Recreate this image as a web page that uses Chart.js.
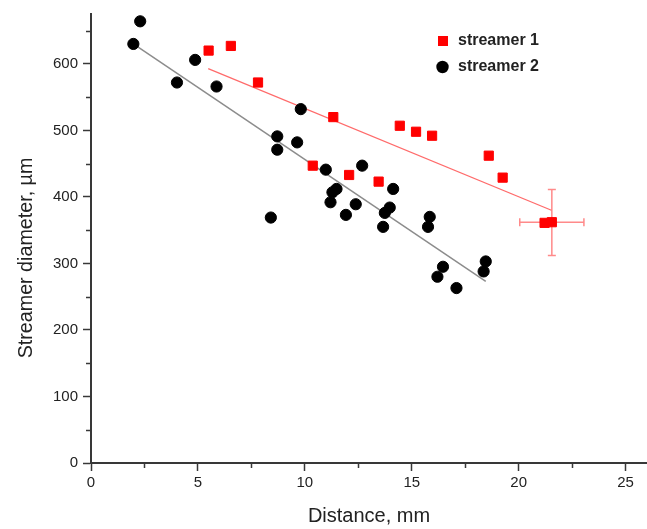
<!DOCTYPE html>
<html>
<head>
<meta charset="utf-8">
<script src="https://cdn.jsdelivr.net/npm/chart.js@4.4.0/dist/chart.umd.min.js"></script>
<style>
  html, body { margin: 0; padding: 0; background: #fff; }
  #wrap { width: 647px; height: 529px; }
</style>
</head>
<body>
<div id="wrap"><canvas id="chart" width="647" height="529"></canvas></div>
<script>
// streamer 1 (red squares)
const s1X = [5.5, 6.54, 7.81, 11.33, 10.37, 12.07, 13.45, 14.44, 15.2, 15.95, 18.6, 19.25, 21.21, 21.55];
const s1Y = [620, 627, 572, 520, 447, 433, 423, 507, 498, 492, 462, 429, 361, 362];

// streamer 2 (black circles)
const s2X = [2.3, 1.98, 4.87, 4.02, 5.87, 9.81, 8.71, 8.71, 9.64, 10.98, 12.68, 11.48, 11.29, 11.2,
             12.38, 11.92, 8.41, 14.13, 13.97, 13.74, 13.66, 15.84, 15.76, 16.46, 16.2, 17.09, 18.46, 18.36];
const s2Y = [664, 630, 606, 572, 566, 532, 491, 471, 482, 441, 447, 412, 407, 392,
             389, 373, 369, 412, 384, 376, 355, 370, 355, 295, 280, 263, 303, 288];

// linear fits (end points)
const fit1X = [5.48, 21.53];
const fit1Y = [593, 380];
const fit2X = [1.98, 18.46];
const fit2Y = [630, 273];

// error bar on streamer 1
const errX = [21.55];
const errY = [362];
const errXLow = [20.05];
const errXHigh = [23.05];
const errYLow = [312];
const errYHigh = [411];

const xTicks = [0, 5, 10, 15, 20, 25];
const yTicks = [0, 100, 200, 300, 400, 500, 600];
const xMinor = [2.5, 7.5, 12.5, 17.5, 22.5];
const yMinor = [50, 150, 250, 350, 450, 550, 650];

const yTitle = "Streamer diameter, µm";

const FONT = "'Liberation Sans', Arial, sans-serif";
const AXIS = "#383838";

const pts = (xs, ys) => xs.map((x, i) => ({ x: x, y: ys[i] }));

const errorBars = {
  id: "errorBars",
  beforeDatasetsDraw(chart) {
    const c = chart.ctx, xs = chart.scales.x, ys = chart.scales.y;
    c.save();
    c.strokeStyle = "#ff8a8a";
    c.lineWidth = 1.5;
    errX.forEach((v, i) => {
      const px = xs.getPixelForValue(v), py = ys.getPixelForValue(errY[i]);
      const x1 = xs.getPixelForValue(errXLow[i]), x2 = xs.getPixelForValue(errXHigh[i]);
      const y1 = ys.getPixelForValue(errYHigh[i]), y2 = ys.getPixelForValue(errYLow[i]);
      c.beginPath();
      c.moveTo(x1, py); c.lineTo(x2, py);
      c.moveTo(x1, py - 4); c.lineTo(x1, py + 4);
      c.moveTo(x2, py - 4); c.lineTo(x2, py + 4);
      c.moveTo(px, y1); c.lineTo(px, y2);
      c.moveTo(px - 4, y1); c.lineTo(px + 4, y1);
      c.moveTo(px - 4, y2); c.lineTo(px + 4, y2);
      c.stroke();
    });
    c.restore();
  }
};

const minorTicks = {
  id: "minorTicks",
  afterDraw(chart) {
    const c = chart.ctx, xs = chart.scales.x, ys = chart.scales.y;
    c.save();
    c.strokeStyle = AXIS;
    c.lineWidth = 1.5;
    c.beginPath();
    xMinor.forEach(v => {
      const px = Math.round(xs.getPixelForValue(v)) + 0.5;
      c.moveTo(px, xs.top); c.lineTo(px, xs.top + 5);
    });
    yMinor.forEach(v => {
      const py = Math.round(ys.getPixelForValue(v)) + 0.5;
      c.moveTo(ys.right, py); c.lineTo(ys.right - 5, py);
    });
    c.stroke();

    // y axis title, sitting a bit below the middle like the original
    c.translate(27, 258);
    c.rotate(-Math.PI / 2);
    c.font = "19.7px " + FONT;
    c.fillStyle = "#222";
    c.textAlign = "center";
    c.textBaseline = "middle";
    c.fillText(yTitle, 0, 0);
    c.restore();
  }
};

const legendBox = {
  id: "legendBox",
  afterDraw(chart) {
    const c = chart.ctx;
    const ds = chart.data.datasets;
    c.save();
    c.font = "bold 16px " + FONT;
    c.textBaseline = "middle";
    // streamer 1
    c.fillStyle = ds[0].backgroundColor;
    c.fillRect(438, 36, 10, 10);
    c.fillStyle = "#222";
    c.fillText(ds[0].label, 458, 41);
    // streamer 2
    c.fillStyle = ds[1].backgroundColor;
    c.beginPath();
    c.arc(442.5, 67, 6.2, 0, Math.PI * 2);
    c.fill();
    c.fillStyle = "#222";
    c.fillText(ds[1].label, 458, 67);
    c.restore();
  }
};

new Chart(document.getElementById("chart"), {
  type: "scatter",
  data: {
    datasets: [
      {
        label: "streamer 1",
        data: pts(s1X, s1Y),
        pointStyle: "rect",
        pointRadius: 6.5,
        backgroundColor: "#ff0000",
        borderColor: "#ff0000",
        borderWidth: 1
      },
      {
        label: "streamer 2",
        data: pts(s2X, s2Y),
        pointStyle: "circle",
        pointRadius: 5.6,
        backgroundColor: "#000000",
        borderColor: "#000000",
        borderWidth: 1
      },
      {
        label: "fit 1",
        data: pts(fit1X, fit1Y),
        showLine: true,
        pointRadius: 0,
        borderColor: "#ff6b6b",
        borderWidth: 1.3
      },
      {
        label: "fit 2",
        data: pts(fit2X, fit2Y),
        showLine: true,
        pointRadius: 0,
        borderColor: "#8c8c8c",
        borderWidth: 1.5
      }
    ]
  },
  options: {
    responsive: false,
    animation: false,
    layout: { autoPadding: false, padding: { top: 12, right: 0, left: 0, bottom: 0 } },
    plugins: {
      legend: { display: false },
      tooltip: { enabled: false }
    },
    scales: {
      x: {
        type: "linear",
        min: 0,
        max: 26,
        afterFit: s => { s.height = 66; },
        afterBuildTicks: s => { s.ticks = xTicks.map(v => ({ value: v })); },
        border: { display: true, color: AXIS, width: 2 },
        grid: { display: true, drawOnChartArea: false, drawTicks: true, tickLength: 8, tickColor: AXIS, tickWidth: 1.5 },
        ticks: { color: "#222", padding: 3, maxRotation: 0, font: { family: FONT, size: 15 } },
        title: { display: true, text: "Distance, mm", color: "#222", padding: { top: 0, bottom: 1 }, font: { family: FONT, size: 20 } }
      },
      y: {
        type: "linear",
        min: 0,
        max: 675,
        afterFit: s => { s.width = 91; },
        afterBuildTicks: s => { s.ticks = yTicks.map(v => ({ value: v })); },
        border: { display: true, color: AXIS, width: 2 },
        grid: { display: true, drawOnChartArea: false, drawTicks: true, tickLength: 8, tickColor: AXIS, tickWidth: 1.5 },
        ticks: { color: "#222", padding: 5, font: { family: FONT, size: 15 } },
        title: { display: false }
      }
    }
  },
  plugins: [errorBars, minorTicks, legendBox]
});
</script>
</body>
</html>
